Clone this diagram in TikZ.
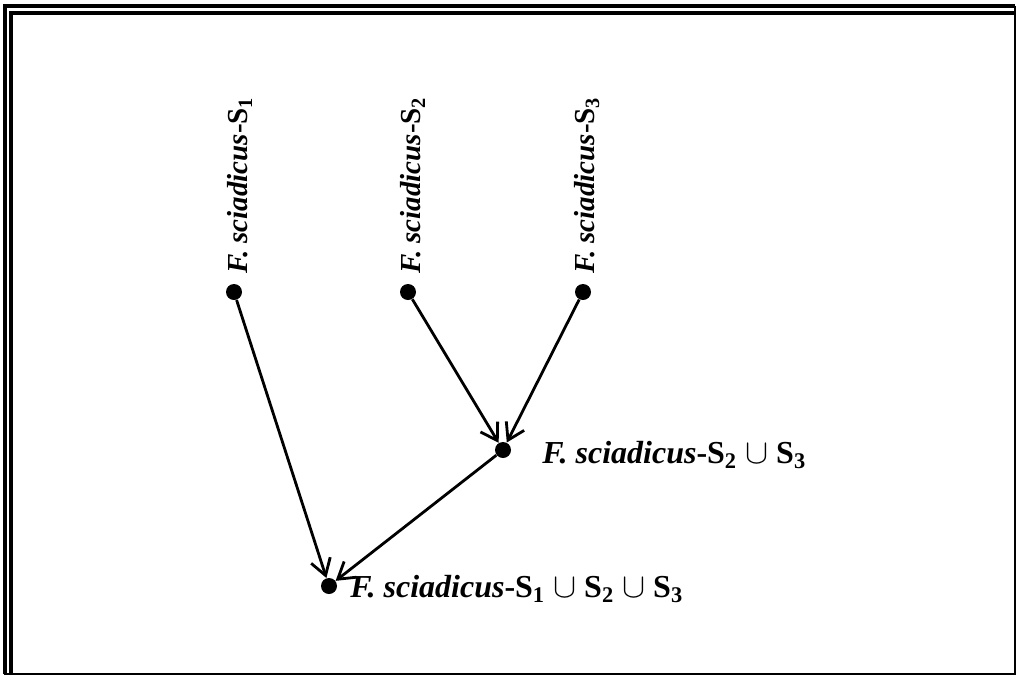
\documentclass[tikz,border=0pt]{standalone}
\usepackage{fontspec}
\setmainfont{Liberation Serif}
\usetikzlibrary{arrows.meta}
\newcommand{\fsname}{\textit{F. sciadicus}-}
\newcommand{\Ss}[1]{S\textsubscript{#1}}
\newcommand{\un}{~$\cup$~}

\begin{document}
\begin{tikzpicture}[x=0.5pt,y=-0.5pt,font=\bfseries,
  dot/.style={circle,fill=black,inner sep=0pt,minimum size=8pt},
  vlab/.style={rotate=90,anchor=west,inner sep=0pt,font=\fontsize{14.5}{16}\selectfont\bfseries},
  hlab/.style={anchor=west,inner sep=0pt,font=\fontsize{16}{18}\selectfont\bfseries},
  arr/.style={-{Straight Barb[length=8pt,width=10pt]},line width=1.4pt}]
  \useasboundingbox (0,0) rectangle (1019,676);
  % frame
  \draw[line width=1pt] (5,7) rectangle (1015,674);
  \draw[line width=1.8pt] (5,674) -- (5,6) -- (1015,6);
  \draw[line width=2pt] (10.5,674) -- (10.5,13) -- (1015,13);
  % single samples
  \node[dot] (s1) at (234,292) {};
  \node[dot] (s2) at (408,292) {};
  \node[dot] (s3) at (583,292) {};
  \node[vlab] (l1) at (240,274) {\fsname\Ss{1}};
  \node[vlab] (l2) at (413,274) {\fsname\Ss{2}};
  \node[vlab] (l3) at (587,274) {\fsname\Ss{3}};
  % merged samples
  \node[dot] (s23) at (503,450) {};
  \node[hlab] (l23) at (542,455) {\fsname\Ss{2}\un\Ss{3}};
  \node[dot] (s123) at (329,586) {};
  \node[hlab] (l123) at (350,589) {\fsname\Ss{1}\un\Ss{2}\un\Ss{3}};
  % arrows
  \draw[arr] (s1) -- (s123);
  \draw[arr] (s2) -- (s23);
  \draw[arr] (s3) -- (s23);
  \draw[arr] (s23) -- (s123);
\end{tikzpicture}
\end{document}
